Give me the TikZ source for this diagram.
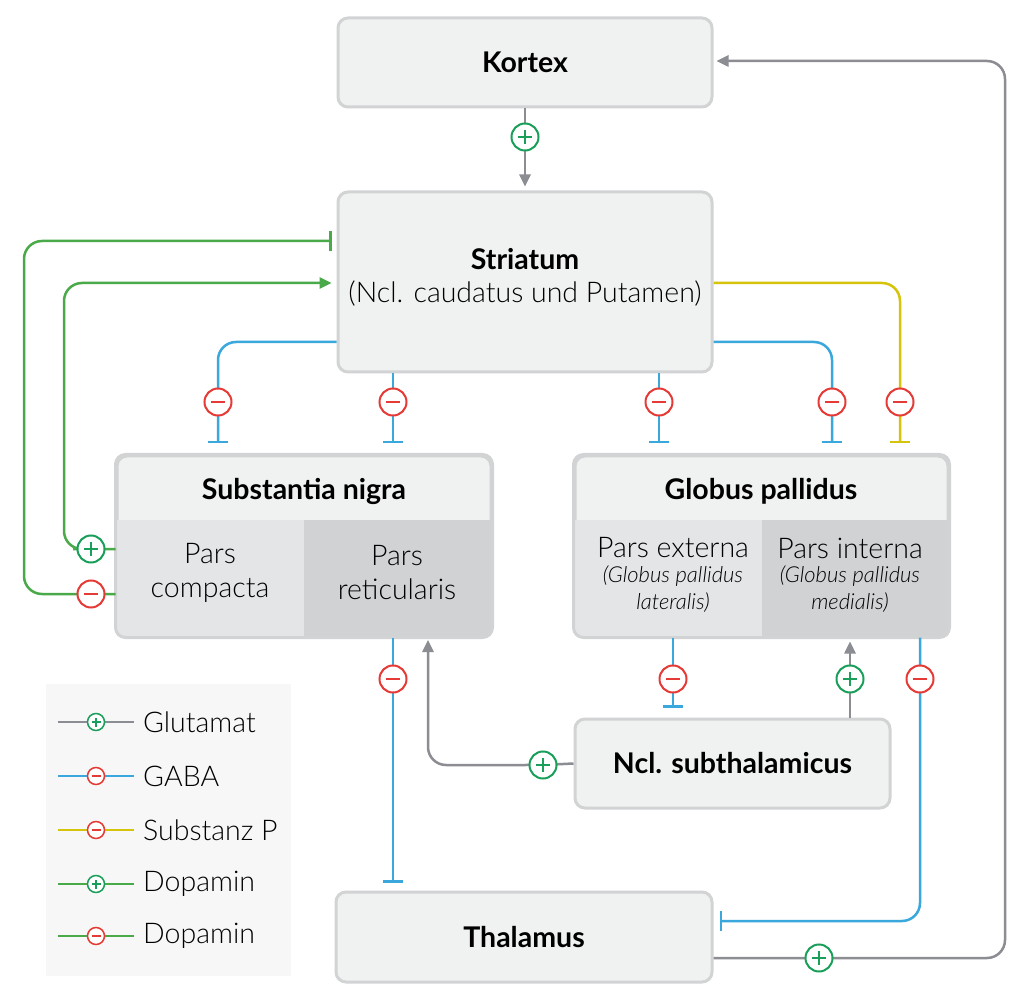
\documentclass[tikz,border=0pt]{standalone}
\usepackage{fontspec}
\IfFontExistsTF{Lato Light}{%
  \setmainfont{Lato Light}[ItalicFont={Lato Light Italic},BoldFont={Lato Bold}]%
}{\setmainfont{Lato}}
\usetikzlibrary{arrows.meta}
\definecolor{boxfill}{HTML}{F0F1F1}
\definecolor{boxline}{HTML}{D2D3D4}
\definecolor{compfill}{HTML}{E4E5E6}
\definecolor{retfill}{HTML}{D1D2D4}
\definecolor{legfill}{HTML}{F7F7F7}
\definecolor{cglu}{HTML}{8B8D92}
\definecolor{cgaba}{HTML}{3AA8DC}
\definecolor{csubp}{HTML}{D6C30C}
\definecolor{cdopa}{HTML}{4AAA4A}
\definecolor{cplus}{HTML}{1A9F5A}
\definecolor{cminus}{HTML}{E53A35}
\tikzset{
  box/.style={draw=boxline, fill=boxfill, line width=3pt, rounded corners=10pt, inner sep=0pt},
  title/.style={font=\bfseries\fontsize{28.5}{34}\selectfont, inner sep=0pt},
  reg/.style={font=\fontsize{28.5}{34}\selectfont, align=center, inner sep=0pt},
  ital/.style={font=\itshape\fontsize{22}{27}\selectfont, align=center, inner sep=0pt},
  conn/.style={line width=2.5pt, rounded corners=18pt},
  glu/.style={conn, draw=cglu},
  gaba/.style={conn, draw=cgaba},
  subp/.style={conn, draw=csubp},
  dopa/.style={conn, draw=cdopa},
  excit/.style={-{Triangle[length=12pt,width=11pt]}},
  inhib/.style={-{Bar[width=20pt]}},
  sign/.style={circle, fill=white, line width=2pt, minimum size=27pt, inner sep=0pt},
  plussign/.style={sign, draw=cplus, path picture={
      \draw[cplus, line width=1.8pt] ([xshift=-7pt]path picture bounding box.center) -- ([xshift=7pt]path picture bounding box.center);
      \draw[cplus, line width=1.8pt] ([yshift=-7pt]path picture bounding box.center) -- ([yshift=7pt]path picture bounding box.center);}},
  minussign/.style={sign, draw=cminus, path picture={
      \draw[cminus, line width=1.8pt] ([xshift=-7pt]path picture bounding box.center) -- ([xshift=7pt]path picture bounding box.center);}},
  lsign/.style={circle, fill=white, line width=1.5pt, minimum size=17pt, inner sep=0pt},
  lplus/.style={lsign, draw=cplus, path picture={
      \draw[cplus, line width=1.3pt] ([xshift=-4.5pt]path picture bounding box.center) -- ([xshift=4.5pt]path picture bounding box.center);
      \draw[cplus, line width=1.3pt] ([yshift=-4.5pt]path picture bounding box.center) -- ([yshift=4.5pt]path picture bounding box.center);}},
  lminus/.style={lsign, draw=cminus, path picture={
      \draw[cminus, line width=1.3pt] ([xshift=-4.5pt]path picture bounding box.center) -- ([xshift=4.5pt]path picture bounding box.center);}},
  legtext/.style={font=\fontsize{28.5}{34}\selectfont, anchor=west, inner sep=0pt},
}
\begin{document}
\begin{tikzpicture}[x=1pt,y=-1pt]
\useasboundingbox (0,0) rectangle (1029,1000);
\fill[white] (0,0) rectangle (1029,1000);

% ---------- boxes ----------
\node[box, minimum width=374pt, minimum height=89pt] (kortex) at (525,62.5) {};
\node[box, minimum width=374pt, minimum height=180pt] (str) at (525,282) {};
\node[box, minimum width=374pt, minimum height=180pt] (sn) at (304,546) {};
\node[box, minimum width=373pt, minimum height=180pt] (gp) at (761.5,546) {};
\node[box, minimum width=315pt, minimum height=89pt] (stn) at (732.5,763.5) {};
\node[box, minimum width=376pt, minimum height=90pt] (thal) at (524,937) {};

% sub-areas
\begin{scope}
  \clip[rounded corners=10pt] (sn.north west) rectangle (sn.south east);
  \fill[compfill] (117,520) rectangle (304,636);
  \fill[retfill] (304,520) rectangle (491,636);
\end{scope}
\draw[boxline, line width=3pt, rounded corners=10pt] (sn.north west) rectangle (sn.south east);
\begin{scope}
  \clip[rounded corners=10pt] (gp.north west) rectangle (gp.south east);
  \fill[compfill] (575,520) rectangle (762,636);
  \fill[retfill] (762,520) rectangle (948,636);
\end{scope}
\draw[boxline, line width=3pt, rounded corners=10pt] (gp.north west) rectangle (gp.south east);

% ---------- texts ----------
\node[title] (tkortex) at (kortex) {Kortex};
\node[title] (tstr) at (525,259) {Striatum};
\node[reg] (tstr2) at (525,294) {(Ncl. caudatus und Putamen)};
\node[title] (tsn) at (304,491) {Substantia nigra};
\node[reg] (tpc) at (210,573) {Pars\\compacta};
\node[reg] (tpr) at (397,573) {Pars\\reticularis};
\node[title] (tgp) at (761,491) {Globus pallidus};
\node[reg] (tpe) at (673,548) {Pars externa};
\node[ital] (tpe2) at (673,589) {(Globus pallidus\\lateralis)};
\node[reg] (tpi) at (850,548) {Pars interna};
\node[ital] (tpi2) at (850,589) {(Globus pallidus\\medialis)};
\node[title] (tstn) at (stn) {Ncl. subthalamicus};
\node[title] (tthal) at (thal) {Thalamus};

% ---------- sign positions ----------
\coordinate (s1) at (525,137);
\coordinate (s2) at (218,402);
\coordinate (s3) at (393,402);
\coordinate (s4) at (659,402);
\coordinate (s5) at (832,402);
\coordinate (s6) at (900,402);
\coordinate (s7) at (91,549);
\coordinate (s8) at (91,594);
\coordinate (s9) at (393,679);
\coordinate (s10) at (673,679);
\coordinate (s11) at (850,679);
\coordinate (s12) at (920,679);
\coordinate (s13) at (543,765);
\coordinate (s14) at (819,958);

% ---------- connectors ----------
% Kortex -> Striatum
\draw[glu, excit, shorten >=4pt] (kortex.south) -- (s1) -- (str.north);
% Striatum -> SN (GABA)
\draw[gaba, inhib, shorten >=11pt] (str.west |- 0,342) -| (s2) -- (sn.north -| s2);
\draw[gaba, inhib, shorten >=11pt] (str.south -| s3) -- (s3) -- (sn.north -| s3);
% Striatum -> GP (GABA, Substanz P)
\draw[gaba, inhib, shorten >=11pt] (str.south -| s4) -- (s4) -- (gp.north -| s4);
\draw[gaba, inhib, shorten >=11pt] (str.east |- 0,342) -| (s5) -- (gp.north -| s5);
\draw[subp, inhib, shorten >=11pt] (str.east |- 0,283) -| (s6) -- (gp.north -| s6);
% SN pars compacta -> Striatum (Dopamin)
\coordinate (d1) at (64,283);
\coordinate (d2) at (24,241);
\draw[dopa, excit, shorten >=5pt] (sn.west |- s7) -- (s7) -| (d1) -- (str.west |- d1);
\draw[dopa, inhib, shorten >=5pt] (sn.west |- s8) -- (s8) -| (d2) -- (str.west |- d2);
% SN pars reticularis -> Thalamus
\draw[gaba, inhib, shorten >=8pt] (sn.south -| s9) -- (s9) -- (thal.north -| s9);
% GPe -> STN
\draw[gaba, inhib, shorten >=10pt] (gp.south -| s10) -- (s10) -- (stn.north -| s10);
% STN -> GPi
\draw[glu, excit, shorten >=4pt] (stn.north -| s11) -- (s11) -- (gp.south -| s11);
% STN -> SNr
\coordinate (g1) at (428,636);
\draw[glu, excit, shorten >=4pt] (stn.west) -- (s13) -| (g1);
% GPi -> Thalamus
\coordinate (b1) at (920,921);
\draw[gaba, inhib, shorten >=6pt] (gp.south -| s12) -- (s12) -- (b1) -- (thal.east |- b1);
% Thalamus -> Kortex
\coordinate (k1) at (1005,958);
\coordinate (k2) at (1005,61);
\draw[glu, excit, shorten >=3pt] (thal.east |- k1) -- (s14) -- (k1) -- (k2) -- (kortex.east |- k2);

% ---------- signs ----------
\node[plussign] (p1) at (s1) {};
\node[minussign] (m2) at (s2) {};
\node[minussign] (m3) at (s3) {};
\node[minussign] (m4) at (s4) {};
\node[minussign] (m5) at (s5) {};
\node[minussign] (m6) at (s6) {};
\node[plussign] (p7) at (s7) {};
\node[minussign] (m8) at (s8) {};
\node[minussign] (m9) at (s9) {};
\node[minussign] (m10) at (s10) {};
\node[plussign] (p11) at (s11) {};
\node[minussign] (m12) at (s12) {};
\node[plussign] (p13) at (s13) {};
\node[plussign] (p14) at (s14) {};

% ---------- legend ----------
\node[fill=legfill, minimum width=245pt, minimum height=292pt, inner sep=0pt] (legend) at (168.5,830) {};
\foreach \yy/\col/\sg/\txt [count=\i] in {722/cglu/lplus/Glutamat, 776/cgaba/lminus/GABA, 830/csubp/lminus/Substanz P, 884/cdopa/lplus/Dopamin, 936/cdopa/lminus/Dopamin}{
  \coordinate (la\i) at (58,\yy);
  \coordinate (lb\i) at (134,\yy);
  \draw[\col, line width=2.5pt] (la\i) -- (lb\i);
  \node[\sg] (ls\i) at (96,\yy) {};
  \node[legtext] (lt\i) at (143,\yy) {\txt};
}
\end{tikzpicture}
\end{document}
